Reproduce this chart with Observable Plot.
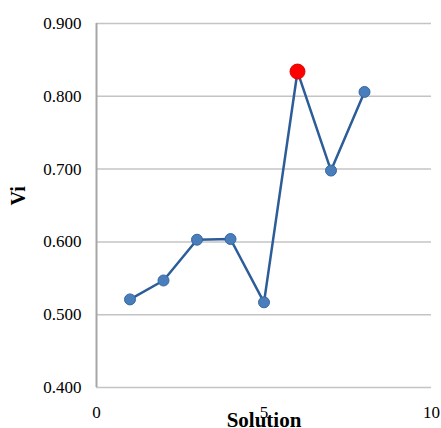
<!DOCTYPE html>
<html><head><meta charset="utf-8">
<script src="https://cdn.jsdelivr.net/npm/d3@7"></script>
<script src="https://cdn.jsdelivr.net/npm/@observablehq/plot@0.6"></script>
<style>body{margin:0;background:#fff} svg text{font-family:"Liberation Serif","Times New Roman",Times,serif}</style>
</head><body><div id="chart"></div>
<script>
const solution = [1, 2, 3, 4, 5, 6, 7, 8];
const vi = [0.521, 0.547, 0.603, 0.604, 0.517, 0.834, 0.698, 0.806];
const highlight = 6;
const yTicks = [0.4, 0.5, 0.6, 0.7, 0.8, 0.9];
const xTicks = [0, 5, 10];
const xTitle = "Solution";
const yTitle = "Vi";

const data = solution.map((s, i) => ({solution: s, vi: vi[i]}));
const serif = '"Liberation Serif", "Times New Roman", Times, serif';

const chart = Plot.plot({
  width: 441,
  height: 428,
  marginLeft: 96,
  marginRight: 10,
  marginTop: 23,
  marginBottom: 41,
  style: {fontFamily: serif, fontSize: "17px", background: "white", color: "black"},
  x: {domain: [0, 10]},
  y: {domain: [0.4, 0.9]},
  marks: [
    Plot.gridY(yTicks, {stroke: "#c4c4c4", strokeOpacity: 1, strokeWidth: 1.5}),
    Plot.ruleX([0], {stroke: "#a6a6a6", strokeWidth: 2}),
    Plot.axisY(yTicks, {tickFormat: d3.format(".3f"), tickSize: 0, tickPadding: 15, label: null, fontSize: 17, fontFamily: serif}),
    Plot.axisX(xTicks, {tickSize: 0, tickPadding: 18, label: null, fontSize: 17, fontFamily: serif}),
    Plot.line(data, {x: "solution", y: "vi", stroke: "#2c5d98", strokeWidth: 2.5}),
    Plot.dot(data.filter(d => d.solution !== highlight), {x: "solution", y: "vi", r: 5.5, fill: "#4a7ebb", stroke: "#3567a5", strokeWidth: 1}),
    Plot.dot(data.filter(d => d.solution === highlight), {x: "solution", y: "vi", r: 7.5, fill: "#ff0000", stroke: "#e00000", strokeWidth: 1}),
    Plot.text([xTitle], {frameAnchor: "bottom", dy: 39, lineAnchor: "bottom", fontWeight: "bold", fontSize: 21, fontFamily: serif}),
    Plot.text([yTitle], {frameAnchor: "left", dx: -78, rotate: -90, fontWeight: "bold", fontSize: 20, fontFamily: serif})
  ]
});
document.getElementById("chart").appendChild(chart);
</script>
</body></html>
